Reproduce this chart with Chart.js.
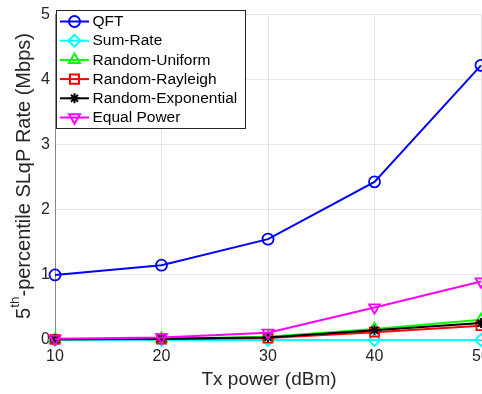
<!DOCTYPE html>
<html>
<head>
<meta charset="utf-8">
<script src="https://cdn.jsdelivr.net/npm/chart.js@4.4.1/dist/chart.umd.min.js"></script>
<style>
  html, body { margin: 0; padding: 0; background: #fff; overflow: hidden; }
  #wrap { width: 482px; height: 394px; overflow: hidden; }
</style>
</head>
<body>
<div id="wrap"><canvas id="chart" width="500" height="394"></canvas></div>
<script>
const txPower = [10, 20, 30, 40, 50];
const qft = [1.0, 1.15, 1.55, 2.43, 4.22];
const sumRate = [0, 0, 0, 0, 0];
const randomUniform = [0.01, 0.02, 0.05, 0.17, 0.31];
const randomRayleigh = [0.01, 0.015, 0.03, 0.12, 0.22];
const randomExponential = [0.01, 0.02, 0.04, 0.15, 0.26];
const equalPower = [0.02, 0.04, 0.11, 0.5, 0.9];
const xTicks = [10, 20, 30, 40, 50];
const yTicks = [0, 1, 2, 3, 4, 5];

const FONT = '"Liberation Sans", Arial, Helvetica, sans-serif';
const TXT = '#262626';

function series(label, values, color, style, radius, rotation, order) {
    return {
        label: label,
        data: txPower.map((x, i) => ({ x: x, y: values[i] })),
        borderColor: color,
        backgroundColor: 'rgba(0,0,0,0)',
        borderWidth: 2,
        pointStyle: style,
        pointRadius: radius,
        pointHoverRadius: radius,
        pointRotation: rotation,
        pointBorderWidth: 1.8,
        pointBorderColor: color,
        pointBackgroundColor: 'rgba(0,0,0,0)',
        tension: 0,
        clip: false,
        order: order
    };
}

// legend drawn inside the axes, MATLAB style
const boxLegend = {
    id: 'boxLegend',
    afterDraw(chart) {
        const ctx = chart.ctx;
        const left = 56.5, top = 10.5, w = 189, h = 118, rowH = 19.2;
        ctx.save();
        ctx.fillStyle = '#fff';
        ctx.fillRect(left, top, w, h);
        ctx.strokeStyle = '#262626';
        ctx.lineWidth = 1;
        ctx.strokeRect(left, top, w, h);
        ctx.font = '15.5px ' + FONT;
        ctx.textBaseline = 'middle';
        chart.data.datasets.forEach((ds, i) => {
            const y = 21.5 + i * rowH;
            ctx.strokeStyle = ds.borderColor;
            ctx.lineWidth = ds.borderWidth;
            ctx.beginPath();
            ctx.moveTo(60, y);
            ctx.lineTo(89, y);
            ctx.stroke();
            ctx.fillStyle = 'rgba(0,0,0,0)';
            Chart.helpers.drawPoint(ctx, {
                pointStyle: ds.pointStyle,
                rotation: ds.pointRotation,
                radius: ds.pointRadius,
                borderWidth: ds.pointBorderWidth
            }, 74.5, y);
            ctx.fillStyle = '#000';
            ctx.fillText(ds.label, 92.5, y + 0.5);
        });
        ctx.restore();
    }
};

// axis titles, y title has a superscript
const axisTitles = {
    id: 'axisTitles',
    afterDraw(chart) {
        const ctx = chart.ctx;
        const a = chart.chartArea;
        ctx.save();
        ctx.fillStyle = TXT;
        ctx.textBaseline = 'middle';
        ctx.textAlign = 'center';
        ctx.font = '19px ' + FONT;
        ctx.fillText('Tx power (dBm)', 269, 380);

        ctx.translate(24, 176);
        ctx.rotate(-Math.PI / 2);
        ctx.textAlign = 'left';
        const big = '20px ' + FONT, small = '13.5px ' + FONT;
        const p1 = '5', p2 = 'th', p3 = '-percentile SLqP Rate (Mbps)';
        ctx.font = big;
        const w1 = ctx.measureText(p1).width, w3 = ctx.measureText(p3).width;
        ctx.font = small;
        const w2 = ctx.measureText(p2).width;
        let x = -(w1 + w2 + w3) / 2;
        ctx.font = big;
        ctx.fillText(p1, x, 0);
        x += w1;
        ctx.font = small;
        ctx.fillText(p2, x, -9);
        x += w2;
        ctx.font = big;
        ctx.fillText(p3, x, 0);
        ctx.restore();
    }
};

new Chart(document.getElementById('chart'), {
    type: 'line',
    data: {
        datasets: [
            series('QFT', qft, '#0000ff', 'circle', 5.5, 0, 6),
            series('Sum-Rate', sumRate, '#00ffff', 'rectRot', 6, 0, 5),
            series('Random-Uniform', randomUniform, '#00ff00', 'triangle', 6.3, 0, 4),
            series('Random-Rayleigh', randomRayleigh, '#ff0000', 'rect', 6.4, 0, 3),
            series('Random-Exponential', randomExponential, '#000000', 'star', 5, 0, 2),
            series('Equal Power', equalPower, '#ff00ff', 'triangle', 6.3, 180, 1)
        ]
    },
    options: {
        responsive: false,
        animation: false,
        events: [],
        layout: { padding: { top: 11, right: 19, left: 0, bottom: 0 } },
        plugins: {
            legend: { display: false },
            tooltip: { enabled: false },
            title: { display: false }
        },
        scales: {
            x: {
                type: 'linear',
                min: 10,
                max: 50,
                afterFit: s => { s.height = 54; },
                afterBuildTicks: s => { s.ticks = xTicks.map(v => ({ value: v })); },
                ticks: { color: TXT, font: { family: FONT, size: 16 }, padding: 7, maxRotation: 0, autoSkip: false },
                grid: { color: '#e6e6e6', lineWidth: 1, drawTicks: false },
                border: { color: '#868686', width: 1 }
            },
            y: {
                min: 0,
                max: 5,
                afterFit: s => { s.width = 55; },
                afterBuildTicks: s => { s.ticks = yTicks.map(v => ({ value: v })); },
                ticks: { color: TXT, font: { family: FONT, size: 16 }, padding: 5 },
                grid: { color: '#e6e6e6', lineWidth: 1, drawTicks: false },
                border: { color: '#868686', width: 1 }
            }
        }
    },
    plugins: [boxLegend, axisTitles]
});
</script>
</body>
</html>
